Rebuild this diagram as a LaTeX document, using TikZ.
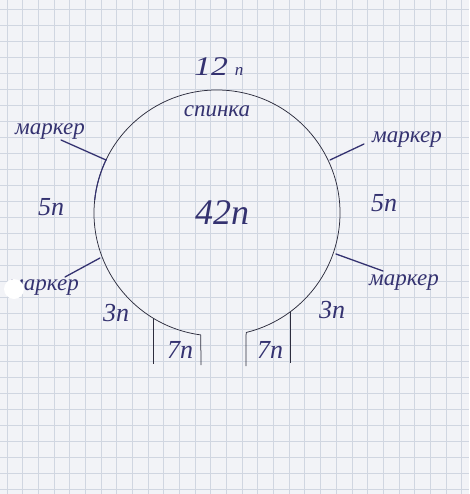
\documentclass[tikz,border=0pt]{standalone}
\usepackage{fontspec}
\setmainfont{Liberation Serif}
\definecolor{paper}{RGB}{242,243,247}
\definecolor{gridc}{RGB}{208,214,225}
\definecolor{ink}{RGB}{52,50,112}
\definecolor{pen}{RGB}{45,45,62}
\tikzset{
  hand/.style={text=ink, font=\itshape, inner sep=0pt},
  tick/.style={draw=ink, line width=1.3pt, line cap=round},
  outline/.style={draw=pen, line width=0.75pt}
}
\begin{document}
\begin{tikzpicture}[x=1pt,y=-1pt]
\fill[paper] (0,0) rectangle (469,494);
\useasboundingbox (0,0) rectangle (469,494);
% grid paper
\foreach \i in {0,...,29} {\draw[gridc, line width=0.9pt] ({7+15.68*\i},0) -- ({7+15.68*\i},494);}
\foreach \j in {0,...,30} {\draw[gridc, line width=0.9pt] (0,{9.5+16*\j}) -- (469,{9.5+16*\j});}
% centre and geometry
\coordinate (c) at (217,213);
\coordinate (aL) at ({217+123*cos(97.6)},{213+123*sin(97.6)});
\coordinate (aR) at ({217+123*cos(76.3)},{213+123*sin(76.3)});
% open circle
\draw[outline] (aL) arc[start angle=97.6, end angle=436.3, radius=123];
\draw[draw=ink, line width=1.1pt] ({217+123*cos(186)},{213+123*sin(186)}) arc[start angle=186, end angle=206, radius=123];
% neck lines
\coordinate (lo1) at (153,318); \coordinate (lo2) at (153,364);
\coordinate (li2) at (201,365);
\coordinate (ri2) at (246,366);
\coordinate (ro1) at (290,312); \coordinate (ro2) at (290,363);
\draw[outline] (lo1) -- (lo2);
\draw[outline] (aL) -- (li2);
\draw[outline] (aR) -- (ri2);
\draw[outline] (ro1) -- (ro2);
% marker ticks
\coordinate (t1a) at (61,140); \coordinate (t1b) at (106,160);
\coordinate (t2a) at (65,277); \coordinate (t2b) at (100,258);
\coordinate (t3a) at (330,160); \coordinate (t3b) at (364,144);
\coordinate (t4a) at (336,254); \coordinate (t4b) at (383,271);
\draw[tick] (t1a) -- (t1b);
\draw[tick] (t2a) -- (t2b);
\draw[tick] (t3a) -- (t3b);
\draw[tick] (t4a) -- (t4b);
% texts
\node[hand, font=\itshape\fontsize{27}{27}\selectfont, anchor=base, xscale=1.25] (n12) at (211,76) {12};
\node[hand, font=\itshape\fontsize{17}{17}\selectfont, anchor=base] (n12p) at (239,76) {п};
\node[hand, font=\itshape\fontsize{23}{23}\selectfont] (sp) at (217,111) {спинка};
\node[hand, font=\itshape\fontsize{36}{36}\selectfont] (n42) at (222,213) {42п};
\node[hand, font=\itshape\fontsize{23}{23}\selectfont] (m1) at (50,132) {маркер};
\node[hand, font=\itshape\fontsize{23}{23}\selectfont] (m2) at (44,288) {маркер};
\node[hand, font=\itshape\fontsize{23}{23}\selectfont] (m3) at (407,140) {маркер};
\node[hand, font=\itshape\fontsize{23}{23}\selectfont] (m4) at (404,283) {маркер};
\node[hand, font=\itshape\fontsize{26}{26}\selectfont] (l5) at (51,207) {5п};
\node[hand, font=\itshape\fontsize{26}{26}\selectfont] (r5) at (384,203) {5п};
\node[hand, font=\itshape\fontsize{26}{26}\selectfont] (l3) at (116,313) {3п};
\node[hand, font=\itshape\fontsize{26}{26}\selectfont] (r3) at (332,310) {3п};
\node[hand, font=\itshape\fontsize{26}{26}\selectfont] (l7) at (180,350) {7п};
\node[hand, font=\itshape\fontsize{26}{26}\selectfont] (r7) at (270,350) {7п};
% white dot on the paper
\fill[white] (14,289) circle[radius=10];
\end{tikzpicture}
\end{document}
